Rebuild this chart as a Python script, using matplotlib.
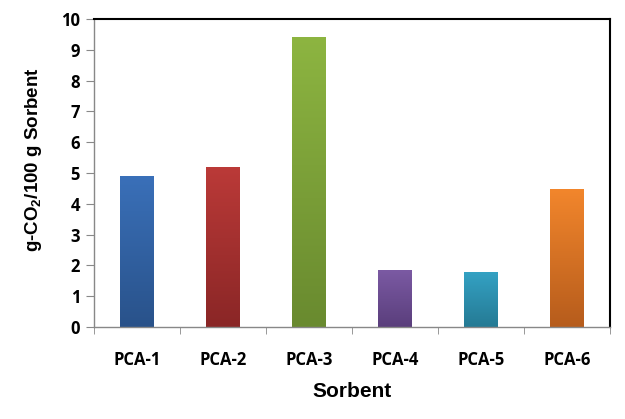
import matplotlib
matplotlib.use("Agg")
import matplotlib.pyplot as plt
import numpy as np
from matplotlib.colors import LinearSegmentedColormap

categories = ["PCA-1", "PCA-2", "PCA-3", "PCA-4", "PCA-5", "PCA-6"]
values = [4.91, 5.20, 9.43, 1.85, 1.79, 4.48]
top_colors = ["#3a70b9", "#bb3a38", "#8db541", "#7b5aa3", "#34a2c4", "#f2862c"]
bottom_colors = ["#29528a", "#8a2626", "#698a2f", "#5a3e7c", "#257a94", "#b65c1c"]
yticks = list(range(0, 11))

plt.rcParams['mathtext.fontset'] = 'custom'
plt.rcParams['mathtext.bf'] = 'Liberation Sans:bold'
plt.rcParams['mathtext.rm'] = 'Liberation Sans:bold'
plt.rcParams['mathtext.default'] = 'bf'

fig = plt.figure(figsize=(6.25, 4.19), dpi=100)
ax = fig.add_axes([0.1504, 0.2196, 0.976 - 0.1504, 0.9547 - 0.2196])

x = np.arange(len(categories))
bars = ax.bar(x, values, width=0.39, color="none", edgecolor="none", zorder=2)
grad = np.linspace(0, 1, 256).reshape(-1, 1)
for b, tc, bc in zip(bars, top_colors, bottom_colors):
    cmap = LinearSegmentedColormap.from_list("g", [bc, tc])
    x0, y0 = b.get_x(), b.get_y()
    w, h = b.get_width(), b.get_height()
    im = ax.imshow(grad, cmap=cmap, extent=[x0, x0 + w, y0, y0 + h],
                   origin="lower", aspect="auto", zorder=2)
    im.set_clip_path(b)

ax.set_xlim(-0.5, len(categories) - 0.5)
ax.set_ylim(0, 10)
ax.set_yticks(yticks)
ax.set_yticklabels([str(t) for t in yticks], fontfamily="Open Sans",
                   fontweight="bold", fontsize=12)
ax.set_xticks(x)
ax.set_xticklabels(categories, fontfamily="Open Sans", fontweight="bold", fontsize=12)
ax.set_xticks(np.arange(-0.5, len(categories)), minor=True)
ax.tick_params(axis="x", which="major", length=0, pad=17)
ax.tick_params(axis="x", which="minor", length=5, direction="out", color="#888888")
ax.tick_params(axis="y", length=6, direction="out", color="#888888", pad=4)

for side in ["left", "bottom"]:
    ax.spines[side].set_color("#888888")
    ax.spines[side].set_linewidth(1.0)
for side in ["top", "right"]:
    ax.spines[side].set_color("black")
    ax.spines[side].set_linewidth(1.5)

ax.set_xlabel("Sorbent", fontfamily="Liberation Sans", fontweight="bold",
              fontsize=15)
ax.xaxis.set_label_coords(0.5, -0.177)
ax.set_ylabel("g-CO$_2$/100 g Sorbent", fontfamily="Liberation Sans",
              fontweight="bold", fontsize=13.5)
ax.yaxis.set_label_coords(-0.097, 0.542)

fig.savefig("out.png", dpi=100)
